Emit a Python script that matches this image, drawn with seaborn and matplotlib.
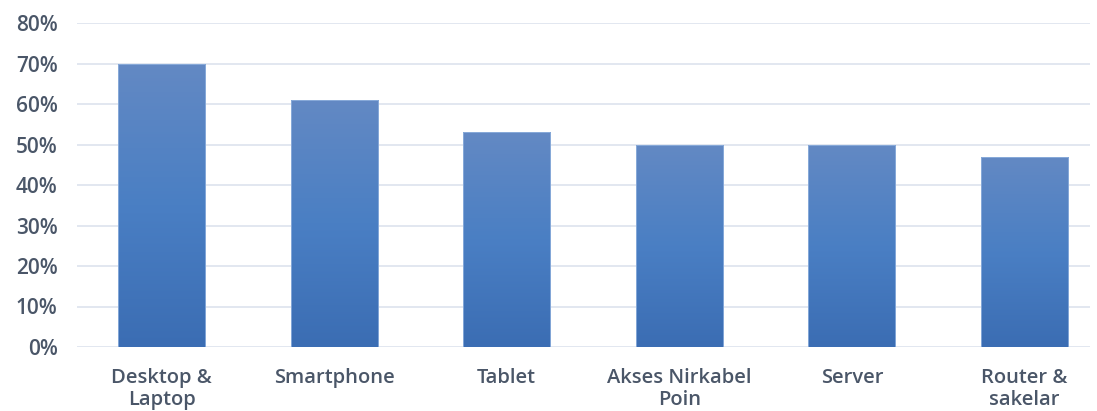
import numpy as np
import pandas as pd
import matplotlib
matplotlib.use("Agg")
import matplotlib.pyplot as plt
import seaborn as sns
from matplotlib.colors import LinearSegmentedColormap

categories = ["Desktop &\nLaptop", "Smartphone", "Tablet", "Akses Nirkabel\nPoin", "Server", "Router &\nsakelar"]
values = [70, 61, 53, 50, 50, 47]
yticks = [0, 10, 20, 30, 40, 50, 60, 70, 80]
ytick_labels = [f"{v}%" for v in yticks]

sns.set_theme(style="white")
plt.rcParams['font.family'] = ['Open Sans', 'DejaVu Sans']

df = pd.DataFrame({"cat": categories, "val": values})
fig = plt.figure(figsize=(10.97, 4.11), dpi=100)
ax = fig.add_axes([77/1097, 1 - 347/411, (1090-77)/1097, (347-23)/411])

sns.barplot(data=df, x="cat", y="val", color="#4a78bb", width=0.505, ax=ax, zorder=3)

cmap = LinearSegmentedColormap.from_list("g", ["#3b6db3", "#4a7fc4", "#6389c3"])
grad = np.linspace(0, 1, 256).reshape(-1, 1)
for p in ax.patches:
    x0, y0 = p.get_x(), p.get_y()
    w, h = p.get_width(), p.get_height()
    p.set_facecolor("none")
    p.set_edgecolor("#8fb0dd")
    p.set_linewidth(0.6)
    im = ax.imshow(grad, cmap=cmap, extent=[x0, x0 + w, y0, y0 + h], origin="lower",
                   aspect="auto", zorder=2.5)
    im.set_clip_path(p)

ax.set_xlim(-0.49, 5.38)
ax.set_ylim(0, 80)
ax.set_yticks(yticks)
ax.set_yticklabels(ytick_labels)
ax.yaxis.grid(True, color="#dfe5ef", linewidth=1.3, zorder=0)
ax.set_axisbelow(True)
for s in ax.spines.values():
    s.set_visible(False)
ax.set_xlabel("")
ax.set_ylabel("")
ax.tick_params(axis="y", length=0, pad=14, labelsize=15, labelcolor="#4a5668")
ax.tick_params(axis="x", length=0, pad=15, labelsize=14.5, labelcolor="#4a5668")
for t in ax.get_yticklabels():
    t.set_fontweight("semibold")
for t in ax.get_xticklabels():
    t.set_fontweight("semibold")
    t.set_linespacing(1.15)

fig.savefig("out.png", dpi=100)
